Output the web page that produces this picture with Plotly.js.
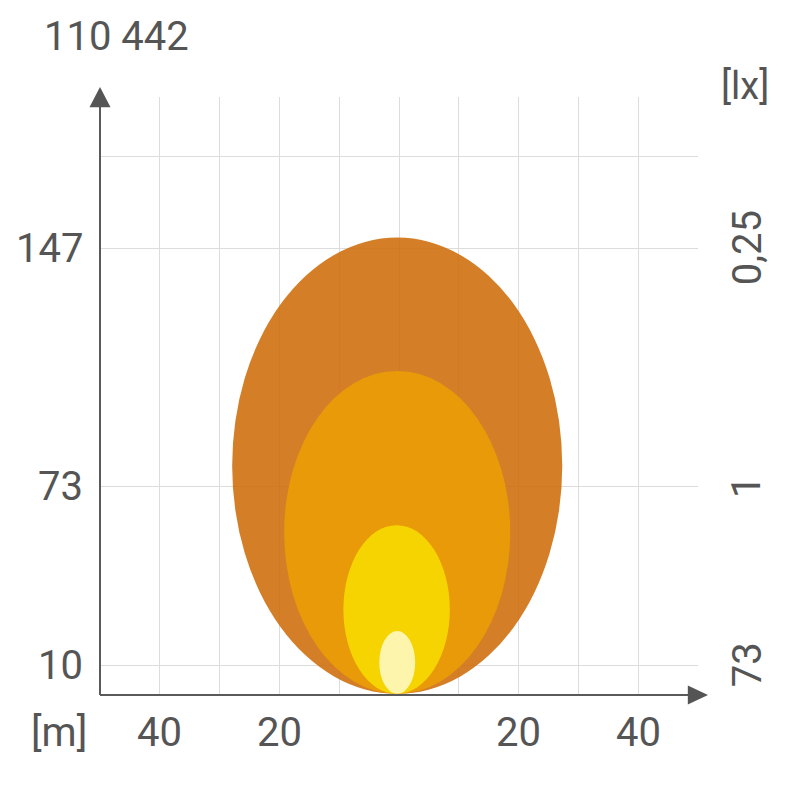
<!DOCTYPE html>
<html>
<head>
<meta charset="utf-8">
<script src="https://cdn.plot.ly/plotly-3.0.1.min.js"></script>
<style>html,body{margin:0;padding:0;background:#fff;}#chart{width:800px;height:800px;}</style>
</head>
<body>
<div id="chart"></div>
<script>
// ---- data ----
const headline = '110 442';
const gridX = [-40, -30, -20, -10, 0, 10, 20, 30, 40];
const xLabelVals = [-40, -20, 20, 40];
const xLabelText = ['40', '20', '20', '40'];
const gridY = [5.0, 34.8, 74.7, 90.0];
const leftLabelVals = [5.0, 34.8, 74.7];
const leftLabelText = ['10', '73', '147'];
const rightLabelVals = [5.0, 34.8, 74.7];
const rightLabelText = ['73', '1', '0,25'];
// isolux contours: half width (m) and reach (m) along the beam axis
const contourHalfWidth = [27.6, 18.9, 8.9, 3.0];
const contourReach = [76.5, 54.2, 28.4, 10.7];
const contourCenter = [-0.3, -0.3, -0.4, -0.3];

// ---- styles ----
const contourColors = ['#CE6C08', '#EC9F04', '#F8DC00', '#FEF9C4'];
const txt = '#555555';
const fam = 'Roboto, Arial, sans-serif';

const shapes = [];
contourHalfWidth.forEach((hw, i) => {
  shapes.push({
    type: 'circle', xref: 'x', yref: 'y', layer: 'between',
    x0: contourCenter[i] - hw, x1: contourCenter[i] + hw,
    y0: 0.2, y1: contourReach[i],
    fillcolor: contourColors[i], opacity: 0.87,
    line: {width: 0}
  });
});
// axis lines and arrowheads (paper coords)
shapes.push({type: 'line', xref: 'paper', yref: 'paper', x0: 0, x1: 0, y0: 0, y1: 0.99, line: {color: '#5a5a5a', width: 2}, layer: 'above'});
shapes.push({type: 'line', xref: 'paper', yref: 'paper', x0: 0, x1: 0.99, y0: 0, y1: 0, line: {color: '#5a5a5a', width: 2}, layer: 'above'});
shapes.push({type: 'path', xref: 'paper', yref: 'paper', path: 'M -0.0176 0.983 L 0.0176 0.983 L 0 1.0167 Z', fillcolor: '#555', line: {width: 0}, layer: 'above'});
shapes.push({type: 'path', xref: 'paper', yref: 'paper', path: 'M 0.983 -0.016 L 0.983 0.016 L 1.0167 0 Z', fillcolor: '#555', line: {width: 0}, layer: 'above'});

const annotations = [];
annotations.push({text: headline, xref: 'paper', yref: 'paper', x: -0.097, y: 1.102, xanchor: 'left', yanchor: 'middle', showarrow: false, font: {size: 40, color: txt, family: fam}});
annotations.push({text: '[lx]', xref: 'paper', yref: 'paper', x: 1.0786, y: 1.0184, xanchor: 'center', yanchor: 'middle', showarrow: false, font: {size: 38, color: txt, family: fam}});
annotations.push({text: '[m]', xref: 'paper', yref: 'paper', x: -0.068, y: -0.0635, xanchor: 'center', yanchor: 'middle', showarrow: false, font: {size: 40, color: txt, family: fam}});
xLabelVals.forEach((v, i) => annotations.push({text: xLabelText[i], xref: 'x', yref: 'paper', x: v, y: -0.062, xanchor: 'center', yanchor: 'middle', showarrow: false, font: {size: 40, color: txt, family: fam}}));
leftLabelVals.forEach((v, i) => annotations.push({text: leftLabelText[i], xref: 'paper', yref: 'y', x: -0.025, y: v, xanchor: 'right', yanchor: 'middle', showarrow: false, font: {size: 40, color: txt, family: fam}}));
rightLabelVals.forEach((v, i) => annotations.push({text: rightLabelText[i], xref: 'paper', yref: 'y', x: 1.082, y: v, xanchor: 'center', yanchor: 'middle', textangle: -90, showarrow: false, font: {size: 40, color: txt, family: fam}}));

const layout = {
  width: 800, height: 800, autosize: false,
  margin: {l: 100, r: 102, t: 97, b: 105, pad: 0},
  paper_bgcolor: '#ffffff', plot_bgcolor: 'rgba(0,0,0,0)',
  showlegend: false,
  xaxis: {range: [-50, 50], tickmode: 'array', tickvals: gridX, showticklabels: false, ticks: '', showgrid: true, gridcolor: '#dcdcdc', gridwidth: 1, zeroline: false, showline: false, fixedrange: true},
  yaxis: {range: [0, 100], tickmode: 'array', tickvals: gridY, showticklabels: false, ticks: '', showgrid: true, gridcolor: '#dcdcdc', gridwidth: 1, zeroline: false, showline: false, fixedrange: true},
  shapes: shapes,
  annotations: annotations
};

Plotly.newPlot('chart', [], layout, {displayModeBar: false, staticPlot: true});
</script>
</body>
</html>
